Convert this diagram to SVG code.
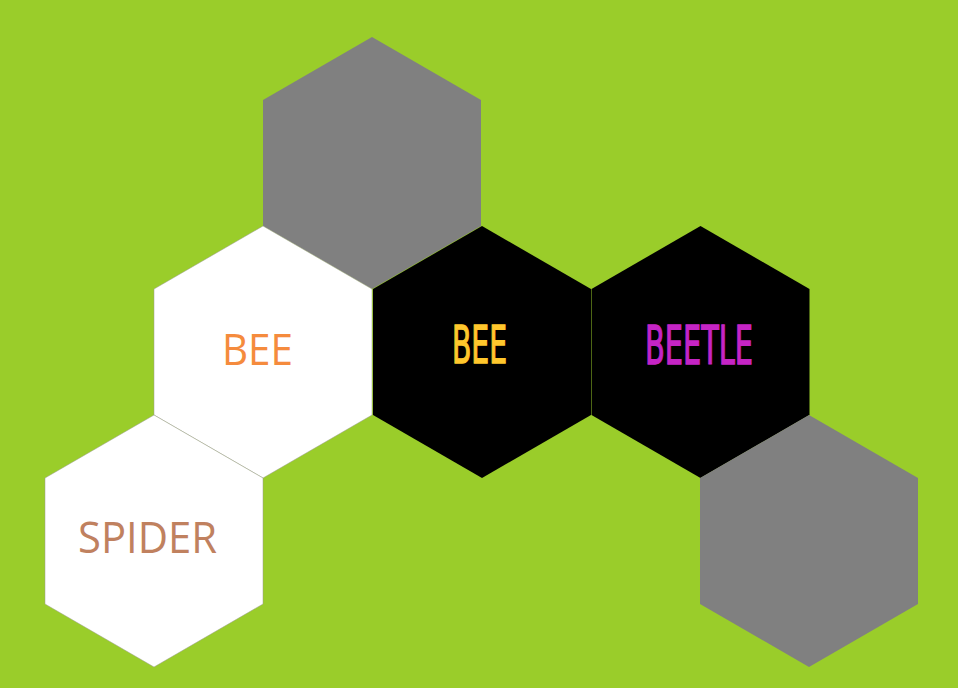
<svg xmlns="http://www.w3.org/2000/svg" width="958" height="688" viewBox="0 0 958 688">
<defs>
<style>
.hex{stroke:none}
.gray{fill:#808080}
.white{fill:#ffffff;stroke:#9a9a90;stroke-width:0.5}
.black{fill:#000000}
.cal{font-family:"Open Sans","Noto Sans","Liberation Sans",sans-serif;font-weight:400}
.cond{font-family:"DejaVu Sans Condensed","Liberation Sans",sans-serif;font-weight:400;stroke-width:1.3}
</style>
<polygon id="h" points="0,-126 109,-63 109,63 0,126 -109,63 -109,-63"/>
</defs>
<rect width="958" height="688" fill="#9acd2a"/>
<g id="nodes">
<g id="gray-top"><use href="#h" class="hex gray" transform="translate(372,163)"/></g>
<g id="bee-white"><use href="#h" class="hex white" transform="translate(263,352)"/>
<text class="cal" x="222" y="365" font-size="44" fill="#f58b3d" textLength="71" lengthAdjust="spacingAndGlyphs">BEE</text></g>
<g id="bee-black"><use href="#h" class="hex black" transform="translate(482,352)"/>
<text class="cond" x="452" y="363" font-size="52" fill="#ffc72c" stroke="#ffc72c" textLength="55" lengthAdjust="spacingAndGlyphs">BEE</text></g>
<g id="beetle-black"><use href="#h" class="hex black" transform="translate(700.5,352)"/>
<text class="cond" x="645" y="364" font-size="53" fill="#c524c5" stroke="#c524c5" textLength="108" lengthAdjust="spacingAndGlyphs">BEETLE</text></g>
<g id="spider-white"><use href="#h" class="hex white" transform="translate(154,541)"/>
<text class="cal" x="78" y="553" font-size="43" fill="#c0815f" textLength="139" lengthAdjust="spacingAndGlyphs">SPIDER</text></g>
<g id="gray-bottom"><use href="#h" class="hex gray" transform="translate(809,541)"/></g>
</g>
<g id="connectors"></g>
</svg>
